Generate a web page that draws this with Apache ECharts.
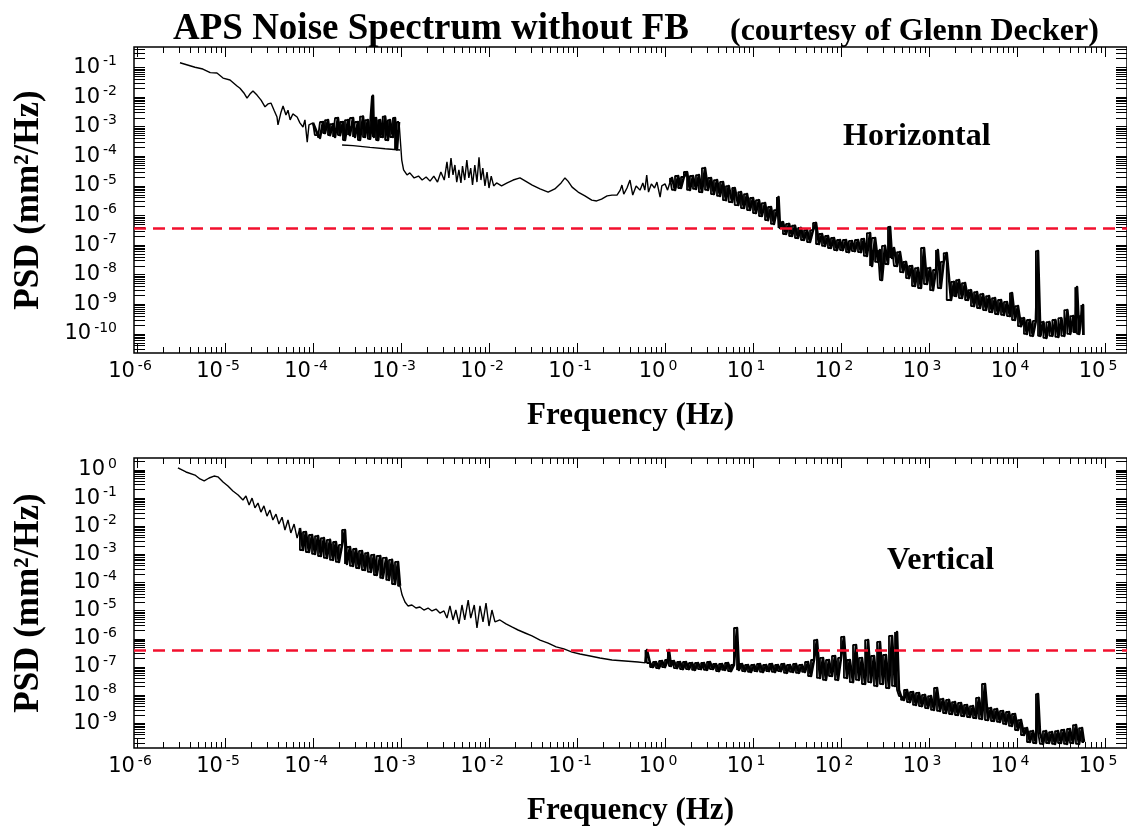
<!DOCTYPE html>
<html><head><meta charset="utf-8">
<script src="https://cdn.jsdelivr.net/npm/echarts@6/dist/echarts.min.js"></script>
<style>html,body{margin:0;padding:0;background:#fff;}#chart{width:1127px;height:839px;}</style>
</head><body><div id="chart"></div>
<script>
// ---- data: [frequency (Hz), PSD (mm^2/Hz)] ----
const horizontalPSD = [
[3.08e-6,1.45e-1],[4.56e-6,1.02e-1],[5.6e-6,8.9e-2],[6.8e-6,6.7e-2],[8.1e-6,6.5e-2],[9.5e-6,4.4e-2],[1.14e-5,3.8e-2],[1.37e-5,2.37e-2],[1.48e-5,2.0e-2],[1.64e-5,1.38e-2],[1.78e-5,9.3e-3],[1.92e-5,1.27e-2],[2.08e-5,1.62e-2],[2.31e-5,1.17e-2],[2.57e-5,7.9e-3],[2.85e-5,4.7e-3],[3.08e-5,5.9e-3],[3.33e-5,6.3e-3],[3.61e-5,3.6e-3],[3.9e-5,2.13e-3],[4.0e-5,1.15e-3],[4.33e-5,3.1e-3],[4.57e-5,5.0e-3],[4.93e-5,2.5e-3],[5.2e-5,3.6e-3],[5.5e-5,1.7e-3],[5.9e-5,2.7e-3],[6.6e-5,2.13e-3],[7.1e-5,1.35e-3],[7.7e-5,9.8e-4],[8.1e-5,1.7e-3],[8.6e-5,3.0e-4],[9.0e-5,1.15e-3],[1.0e-4,1.35e-3],
[1.05e-4,1.44e-3],[1.14e-4,5.2e-4],[1.2e-4,4.2e-4],[1.3e-4,1.44e-3],[1.37e-4,6.1e-4],[1.48e-4,1.68e-3],[1.56e-4,5.2e-4],[1.69e-4,1.23e-3],[1.78e-4,4.5e-4],[1.92e-4,1.97e-3],[2.03e-4,5.2e-4],[2.19e-4,1.44e-3],[2.31e-4,3.55e-4],[2.5e-4,1.68e-3],[2.63e-4,5.2e-4],[2.85e-4,1.97e-3],[3.0e-4,4.5e-4],[3.24e-4,1.44e-3],[3.42e-4,3.55e-4],[3.7e-4,2.2e-3],[3.9e-4,4.5e-4],[4.2e-4,1.68e-3],[4.45e-4,3.9e-4],[4.68e-4,1.44e-3],[4.8e-4,1.1e-2],[4.93e-4,4.5e-4],[5.2e-4,1.97e-3],[5.5e-4,3.55e-4],[5.8e-4,1.68e-3],[6.2e-4,4.5e-4],[6.6e-4,2.2e-3],[7.1e-4,3.55e-4],[7.5e-4,1.68e-3],[8.1e-4,4.5e-4],[8.55e-4,1.97e-3],[9.0e-4,1.7e-4],[9.5e-4,1.44e-3],
[1.02e-3,7.5e-5],[1.07e-3,3.5e-5],[1.17e-3,2.34e-5],[1.26e-3,2.75e-5],[1.41e-3,1.86e-5],[1.58e-3,2.15e-5],[1.74e-3,1.58e-5],[1.93e-3,2.0e-5],[2.14e-3,1.45e-5],[2.36e-3,2.15e-5],[2.6e-3,1.35e-5],[2.84e-3,2.95e-5],[3.1e-3,1.58e-5],[3.33e-3,6.5e-5],[3.5e-3,1.86e-5],[3.7e-3,8.7e-5],[3.9e-3,2.34e-5],[4.1e-3,5.1e-5],[4.3e-3,1.35e-5],[4.55e-3,3.5e-5],[4.8e-3,1.26e-5],[5.0e-3,4.7e-5],[5.3e-3,1.58e-5],[5.6e-3,7.5e-5],[5.9e-3,1.86e-5],[6.2e-3,4.0e-5],[6.5e-3,1.07e-5],[6.9e-3,5.1e-5],[7.3e-3,1.35e-5],[7.7e-3,9.3e-5],[8.1e-3,1.58e-5],[8.5e-3,4.0e-5],[9.0e-3,1.0e-5],[9.5e-3,2.95e-5],[1.0e-2,8.5e-6],[1.06e-2,2.15e-5],[1.13e-2,1.0e-5],[1.22e-2,1.26e-5],[1.39e-2,1.0e-5],[1.61e-2,1.26e-5],[1.88e-2,1.58e-5],[2.25e-2,1.86e-5],[2.6e-2,1.45e-5],[3.1e-2,1.07e-5],[3.8e-2,7.9e-6],[4.7e-2,6.2e-6],[5.6e-2,7.9e-6],[6.6e-2,1.26e-5],[7.3e-2,1.86e-5],[7.9e-2,1.45e-5],[8.8e-2,9.1e-6],[1.03e-1,6.2e-6],[1.23e-1,4.6e-6],[1.47e-1,3.3e-6],[1.67e-1,3.1e-6],[1.9e-1,3.6e-6],[2.2e-1,4.6e-6],[2.5e-1,4.9e-6],[2.85e-1,4.9e-6],[3.1e-1,7.2e-6],[3.24e-1,1.07e-5],[3.4e-1,5.3e-6],[3.7e-1,8.5e-6],[4.0e-1,1.58e-5],[4.3e-1,4.9e-6],[4.7e-1,1.0e-5],[5.2e-1,7.2e-6],[5.6e-1,1.26e-5],[5.9e-1,7.2e-6],[6.2e-1,2.34e-5],[6.5e-1,6.2e-6],[7.0e-1,1.17e-5],[7.6e-1,8.5e-6],[8.1e-1,1.35e-5],[8.8e-1,4.2e-6],[9.2e-1,1.0e-5],[1.0,1.17e-5],[1.07,7.2e-6],[1.14,1.35e-5],
[1.2,1.85e-5],[1.3,7.3e-6],[1.41,2.16e-5],[1.52,8.5e-6],[1.64,2.0e-5],[1.78,2.95e-5],[1.92,7.3e-6],[2.08,2.16e-5],[2.25,7.9e-6],[2.43,2.33e-5],[2.63,6.2e-6],[2.85,4.0e-5],[3.08,7.3e-6],[3.33,1.85e-5],[3.6,5.3e-6],[3.9,1.58e-5],[4.22,4.6e-6],[4.56,1.36e-5],[4.93,3.3e-6],[5.3,9.9e-6],[5.8,2.86e-6],[6.2,8.5e-6],[6.8,2.26e-6],[7.3,6.2e-6],[7.9,1.79e-6],[8.55,5.3e-6],[9.25,1.53e-6],[10,3.9e-6],[10.8,1.21e-6],[11.7,3.3e-6],[12.6,9.6e-7],[13.7,2.64e-6],[14.8,7.0e-7],[16.0,1.94e-6],[17.3,5.2e-7],[18.7,1.53e-6],[19.5,4.2e-6],[20.3,3.8e-7],[21.9,6.0e-7],[23.7,2.37e-7],[25.7,5.2e-7],[27.7,2.03e-7],[30,4.5e-7],[32.5,1.74e-7],[35.1,3.8e-7],[38,1.49e-7],[41.1,3.2e-7],[44.5,1.27e-7],[48.1,3.2e-7],[52,5.6e-7],[56.2,1.09e-7],[60.8,2.37e-7],[65.8,9.4e-8],[71.1,2.03e-7],[76.9,8.0e-8],[83.2,1.74e-7],[90,6.8e-8],[97.4,1.49e-7],[105,6.8e-8],[114,1.49e-7],[123,5.8e-8],[133,1.38e-7],[144,6.3e-8],[156,1.49e-7],[169,5.8e-8],[182,1.61e-7],[197,4.3e-8],[214,2.56e-7],[225,1.97e-8],[244,1.74e-7],[263,2.7e-8],[277,6.8e-8],[292,6.6e-9],[316,9.4e-8],[342,2.3e-8],[361,4.1e-7],[380,3.7e-8],[400,8.0e-8],[433,1.97e-8],[468,5.8e-8],[507,1.23e-8],[548,2.7e-8],[593,7.7e-9],[641,1.97e-8],[693,4.15e-9],[750,1.68e-8],[811,3.55e-9],[877,8.0e-8],[949,4.85e-9],[1027,1.68e-8],[1110,3.0e-9],[1200,1.44e-8],[1260,6.8e-8],[1360,3.55e-9],[1470,2.7e-8],[1590,5.4e-8],[1779,1.4e-9],[1924,5.7e-9],[2030,1.9e-9],[2190,6.6e-9],[2370,1.63e-9],[2570,5.2e-9],[2780,1.4e-9],[3000,3.0e-9],[3250,8.7e-10],[3510,2.6e-9],[3800,7.5e-10],[4110,2.2e-9],[4450,6.4e-10],[4810,1.9e-9],[5200,5.5e-10],[5620,1.63e-9],[6080,4.7e-10],[6580,1.4e-9],[7110,4.4e-10],[7690,1.2e-9],[8320,4.0e-10],[8780,2.4e-9],[9490,2.95e-10],[10260,8.7e-10],[11100,1.82e-10],[12000,3.4e-10],[12960,1.0e-10],[14010,2.95e-10],[15150,8.6e-11],[16390,2.75e-10],[17330,6.3e-8],[18450,8.6e-11],[19950,2.5e-10],[21570,7.3e-11],[23330,2.5e-10],[25220,8.6e-11],[27270,2.95e-10],[29490,7.9e-11],[31890,3.4e-10],[34480,8.6e-11],[37290,6.4e-10],[40320,1.0e-10],[43600,4.0e-10],[45950,1.16e-10],[48110,3.8e-9],[50900,1.0e-10],[53800,4.0e-10],[56300,9.5e-10],[57000,9.2e-11]
];
const horizontalSmoothPSD = [[2.14e-4,2.4e-4],[2.85e-4,2.3e-4],[4.45e-4,2.0e-4],[6.6e-4,1.8e-4],[9.75e-4,1.63e-4]];
const verticalPSD = [
[2.92e-6,1.18],[3.6e-6,0.85],[4.56e-6,0.66],[5.2e-6,0.48],[5.8e-6,0.41],[6.6e-6,0.52],[7.5e-6,0.61],[8.3e-6,0.57],[9.5e-6,0.375],[1.08e-5,0.27],[1.23e-5,0.18],[1.41e-5,0.13],[1.6e-5,8.6e-2],[1.73e-5,0.12],[1.88e-5,5.7e-2],[2.03e-5,0.1],[2.19e-5,4.5e-2],[2.37e-5,6.7e-2],[2.56e-5,3.2e-2],[2.77e-5,5.3e-2],[3.0e-5,2.3e-2],[3.24e-5,3.8e-2],[3.5e-5,1.67e-2],[3.8e-5,2.7e-2],[4.1e-5,1.2e-2],[4.45e-5,2.1e-2],[4.8e-5,7.4e-3],[5.2e-5,1.67e-2],[5.6e-5,5.8e-3],[6.1e-5,1.2e-2],[6.6e-5,3.8e-3],[7.1e-5,8.7e-3],
[7.7e-5,1.44e-3],[8.3e-5,6.3e-3],[9.0e-5,1.22e-3],[9.75e-5,4.9e-3],[1.054e-4,1.04e-3],[1.14e-4,4.5e-3],[1.23e-4,8.8e-4],[1.33e-4,3.8e-3],[1.44e-4,7.5e-4],[1.56e-4,3.3e-3],[1.69e-4,6.4e-4],[1.82e-4,2.77e-3],[1.97e-4,5.4e-4],[2.14e-4,2.17e-3],[2.31e-4,7.4e-3],[2.43e-4,4.6e-4],[2.63e-4,1.84e-3],[2.85e-4,3.9e-4],[3.08e-4,1.56e-3],[3.33e-4,3.3e-4],[3.6e-4,1.33e-3],[3.9e-4,2.8e-4],[4.2e-4,1.12e-3],[4.56e-4,2.4e-4],[4.93e-4,9.6e-4],[5.3e-4,1.86e-4],[5.8e-4,8.8e-4],[6.2e-4,1.46e-4],[6.8e-4,7.5e-4],[7.3e-4,1.24e-4],[7.9e-4,6.4e-4],[8.55e-4,8.9e-5],[9.25e-4,5.4e-4],[9.75e-4,7.6e-5],
[1.03e-3,3.6e-5],[1.11e-3,2.05e-5],[1.2e-3,1.48e-5],[1.33e-3,1.6e-5],[1.48e-3,1.25e-5],[1.64e-3,1.36e-5],[1.82e-3,1.06e-5],[2.03e-3,1.25e-5],[2.25e-3,9.8e-6],[2.5e-3,1.15e-5],[2.77e-3,8.3e-6],[3.08e-3,9.8e-6],[3.33e-3,5.5e-6],[3.6e-3,1.48e-5],[3.9e-3,4.7e-6],[4.2e-3,1.06e-5],[4.56e-3,3.4e-6],[4.93e-3,1.6e-5],[5.3e-3,4.7e-6],[5.8e-3,2.4e-5],[6.2e-3,5.5e-6],[6.8e-3,1.6e-5],[7.3e-3,2.44e-6],[7.9e-3,1.48e-5],[8.55e-3,4.0e-6],[9.25e-3,1.88e-5],[1.0e-2,2.87e-6],[1.08e-2,1.06e-5],[1.17e-2,4.0e-6],[1.33e-2,4.7e-6],[1.56e-2,3.4e-6],[1.82e-2,2.65e-6],[2.14e-2,2.07e-6],[2.57e-2,1.62e-6],[3.08e-2,1.27e-6],[3.8e-2,9.1e-7],[4.7e-2,7.1e-7],[5.8e-2,5.2e-7],[7.1e-2,4.4e-7],[8.8e-2,3.4e-7],[0.108,2.9e-7],[0.141,2.47e-7],[0.182,2.1e-7],[0.25,1.78e-7],[0.351,1.64e-7],[0.493,1.51e-7],[0.6,1.4e-7],[0.624,4.0e-7],[0.676,1.39e-7],[0.73,1.0e-7],[0.79,1.51e-7],[0.855,9.2e-8],[0.925,1.64e-7],[1.0,1.0e-7],[1.08,1.78e-7],[1.11,4.0e-7],[1.17,1.09e-7],[1.26,1.64e-7],[1.37,9.2e-8],[1.48,1.51e-7],[1.6,8.5e-8],[1.73,1.51e-7],[1.87,8.5e-8],[2.03,1.39e-7],[2.19,7.9e-8],[2.37,1.39e-7],[2.57,8.5e-8],[2.77,1.39e-7],[3.0,7.9e-8],[3.24,1.51e-7],[3.51,8.5e-8],[3.8,1.28e-7],[4.11,7.2e-8],[4.45,1.28e-7],[4.81,7.9e-8],[5.2,1.39e-7],[5.62,7.2e-8],[6.08,1.18e-7],[6.58,2.44e-6],[6.93,7.9e-8],[7.5,1.28e-7],[8.11,7.2e-8],[8.77,1.18e-7],[9.49,6.7e-8],[10.3,1.18e-7],[11.1,7.2e-8],[12.0,1.28e-7],[13.0,6.7e-8],[14.1,1.18e-7],[15.2,7.2e-8],[16.4,1.28e-7],[17.8,6.7e-8],[19.2,1.18e-7],[20.8,7.2e-8],[22.5,1.28e-7],[24.3,6.2e-8],[26.3,1.18e-7],[28.5,6.7e-8],[30.8,1.28e-7],[33.3,6.2e-8],[36.1,1.18e-7],[39,6.7e-8],[42.2,1.51e-7],[45.6,4.8e-8],[49.3,1.78e-7],[53.3,9.1e-7],[57.7,4.1e-8],[62.4,2.1e-7],[67.5,3.5e-8],[73,1.78e-7],[79,4.8e-8],[85.5,2.47e-7],[92.5,3.5e-8],[100,2.1e-7],[108,1.17e-6],[117,4.1e-8],[126,1.78e-7],[137,2.9e-8],[148,6.1e-7],[160,3.5e-8],[173,2.1e-7],[188,2.5e-8],[203,9.1e-7],[219,2.9e-8],[237,2.47e-7],[257,2.14e-8],[277,7.8e-7],[300,2.5e-8],[324,2.68e-7],[351,1.8e-8],[380,1.27e-6],[411,2.14e-8],[433,1.76e-6],[456,1.53e-8],[481,9.3e-9],
[520,6.8e-9],[562,1.53e-8],[608,5.7e-9],[658,1.3e-8],[711,4.5e-9],[769,1.2e-8],[832,4.1e-9],[901,1.02e-8],[975,3.5e-9],[1054,9.3e-9],[1140,3.0e-9],[1233,1.8e-8],[1334,2.75e-9],[1443,7.3e-9],[1561,2.33e-9],[1688,6.8e-9],[1826,2.15e-9],[1974,5.7e-9],[2135,1.98e-9],[2310,5.3e-9],[2498,1.82e-9],[2702,4.5e-9],[2923,1.68e-9],[3162,4.1e-9],[3420,1.55e-9],[3699,8.0e-9],[4000,1.43e-9],[4327,2.5e-8],[4680,1.31e-9],[5062,3.5e-9],[5475,1.21e-9],[5922,3.2e-9],[6405,1.12e-9],[6928,2.75e-9],[7494,9.5e-10],[8105,2.53e-9],[8767,8.1e-10],[9483,2.15e-9],[10257,5.8e-10],[11094,1.31e-9],[12000,3.85e-10],[12980,6.8e-10],[14040,2.17e-10],[15190,5.3e-10],[16430,2.0e-10],[17330,1.1e-8],[18240,4.9e-10],[19730,1.85e-10],[21380,5.3e-10],[23120,2.0e-10],[25000,4.9e-10],[27040,1.85e-10],[29240,5.3e-10],[31620,2.0e-10],[34200,5.8e-10],[36990,1.85e-10],[40000,6.3e-10],[43260,2.0e-10],[46780,8.7e-10],[50700,1.85e-10],[54800,6.8e-10],[57700,2.17e-10]
];
const thresholdPSD = 3.8e-7;
// frequency ranges (Hz) where the spectra are dense noisy bands
const horizontalBands = [[1.0e-4, 9.5e-4], [1.14, 1e6]];
const verticalBands = [[7.1e-5, 9.75e-4], [0.6, 1e6]];
// tick labels: decade exponents
const xDecades = [-6,-5,-4,-3,-2,-1,0,1,2,3,4,5];
const yDecadesTop = [-10,-9,-8,-7,-6,-5,-4,-3,-2,-1];
const yDecadesBottom = [-9,-8,-7,-6,-5,-4,-3,-2,-1,0];
// axis ranges (decade exponents)
const xRangeExp = [-6.034, 5.25];
const yRangeTopExp = [-10.645, -0.307];
const yRangeBottomExp = [-9.876, 0.426];

const serifBold = {fontFamily:'Liberation Serif', fontWeight:'bold', color:'#000'};
function tickSet(range, ks){
  const out=[];
  for(let n=Math.floor(range[0]); n<=Math.ceil(range[1]); n++){
    ks.forEach(k=>{const v=n+Math.log10(k); if(v>=range[0]&&v<=range[1]) out.push(v);});
  }
  return out;
}
const allK=[1,2,3,4,5,6,7,8,9], minorK=[2,3,4,5,6,7,8,9];
const labelRich = {
  b:{fontFamily:'DejaVu Sans', fontSize:21, lineHeight:26, padding:[0,3,0,0], color:'#000'},
  e:{fontFamily:'DejaVu Sans', fontSize:14, lineHeight:13, verticalAlign:'top', color:'#000'}
};
function powerLabel(v){ return '{b|10}{e|' + Math.round(v) + '}'; }

function xOverlay(g, position, ticks, len, labels, name){
  return {type:'value', gridIndex:g, position:position, min:xRangeExp[0], max:xRangeExp[1],
    axisLine:{show:false, onZero:false}, splitLine:{show:false},
    axisTick:{show:true, inside:true, length:len, lineStyle:{color:'#000', width:1}, customValues:ticks},
    axisLabel: labels ? {show:true, customValues:xDecades, formatter:powerLabel, rich:labelRich, margin:6, padding:[0,14,0,0]} : {show:false},
    name: name || '', nameLocation:'middle', nameGap:47, nameTextStyle:Object.assign({fontSize:31}, serifBold)};
}
function yOverlay(g, position, range, decs, labels){
  return {type:'value', gridIndex:g, position:position, min:range[0], max:range[1],
    axisLine:{show:false, onZero:false}, splitLine:{show:false},
    axisTick:{show:true, inside:true, length:11, lineStyle:{color:'#000', width:1}, customValues:tickSet(range, allK)},
    axisLabel: labels ? {show:true, customValues:decs, formatter:powerLabel, rich:labelRich, margin:17, align:'right'} : {show:false},
    name: labels ? 'PSD (mm²/Hz)' : '', nameLocation:'middle', nameGap:88, nameRotate:90,
    nameTextStyle:Object.assign({fontSize:35}, serifBold)};
}
function mainAxis(g, range){
  return {type:'log', logBase:10, gridIndex:g, min:Math.pow(10, range[0]), max:Math.pow(10, range[1]),
    show:false, axisLine:{onZero:false}, splitLine:{show:false}};
}
const xMajor = tickSet(xRangeExp, [1]);
const xMinor = tickSet(xRangeExp, minorK);
const redLine = {silent:true, symbol:['none','none'], animation:false, label:{show:false},
  lineStyle:{color:'#f2102e', type:[12,7], width:2.5},
  data:[[{coord:[Math.pow(10, xRangeExp[0]), thresholdPSD]}, {coord:[Math.pow(10, xRangeExp[1]), thresholdPSD]}]]};
const thinStyle = {color:'#000', width:1.4};
const bandStyle = {color:'#000', width:2.6, join:'round'};
const bandFillStyle = {color:'#000', width:1.8};
function pick(data, lo, hi){ return data.filter(p => p[0] >= lo && p[0] <= hi); }
function lineSeries(name, data, xi, yi, style, step){
  const s = {name:name, type:'line', xAxisIndex:xi, yAxisIndex:yi, data:data, symbol:'none', showSymbol:false, lineStyle:style, z:3};
  if (step) s.step = step;
  return s;
}
function traceSeries(name, data, bands, xi, yi){
  const out = [];
  let prev = 0;
  bands.forEach(b => {
    const bandData = pick(data, b[0], b[1]);
    out.push(lineSeries(name, pick(data, prev, b[0]), xi, yi, thinStyle, null));
    out.push(lineSeries(name, bandData, xi, yi, bandStyle, null));
    out.push(lineSeries(name, bandData, xi, yi, bandFillStyle, 'start'));
    prev = b[1];
  });
  out.push(lineSeries(name, pick(data, prev, 1e9), xi, yi, thinStyle, null));
  return out;
}

const series = [].concat(
  traceSeries('Horizontal', horizontalPSD, horizontalBands, 0, 0),
  [{name:'Horizontal (smoothed)', type:'line', xAxisIndex:0, yAxisIndex:0, data:horizontalSmoothPSD, symbol:'none', showSymbol:false, lineStyle:thinStyle, markLine:redLine, z:3}],
  traceSeries('Vertical', verticalPSD, verticalBands, 5, 3)
);
series[series.length-1].markLine = redLine;

const option = {
  backgroundColor:'#fff', animation:false,
  title:[
    {text:'APS Noise Spectrum without FB', left:173, top:11, padding:0, textStyle:Object.assign({fontSize:37}, serifBold)},
    {text:'(courtesy of Glenn Decker)', left:730, top:16, padding:0, textStyle:Object.assign({fontSize:32}, serifBold)},
    {text:'Horizontal', left:843, top:121, padding:0, textStyle:Object.assign({fontSize:32}, serifBold)},
    {text:'Vertical', left:887, top:545, padding:0, textStyle:Object.assign({fontSize:32}, serifBold)}
  ],
  grid:[
    {left:134, top:47, width:993, height:306, show:true, borderColor:'#000', borderWidth:1.5, backgroundColor:'transparent'},
    {left:134, top:458, width:993, height:290, show:true, borderColor:'#000', borderWidth:1.5, backgroundColor:'transparent'}
  ],
  xAxis:[
    mainAxis(0, xRangeExp),
    xOverlay(0,'bottom',xMajor,10,true,'Frequency (Hz)'),
    xOverlay(0,'bottom',xMinor,6,false),
    xOverlay(0,'top',xMajor,10,false),
    xOverlay(0,'top',xMinor,6,false),
    mainAxis(1, xRangeExp),
    xOverlay(1,'bottom',xMajor,10,true,'Frequency (Hz)'),
    xOverlay(1,'bottom',xMinor,6,false),
    xOverlay(1,'top',xMajor,10,false),
    xOverlay(1,'top',xMinor,6,false)
  ],
  yAxis:[
    mainAxis(0, yRangeTopExp),
    yOverlay(0,'left',yRangeTopExp,yDecadesTop,true),
    yOverlay(0,'right',yRangeTopExp,yDecadesTop,false),
    mainAxis(1, yRangeBottomExp),
    yOverlay(1,'left',yRangeBottomExp,yDecadesBottom,true),
    yOverlay(1,'right',yRangeBottomExp,yDecadesBottom,false)
  ],
  series: series
};
const chart = echarts.init(document.getElementById('chart'), null, {renderer:'canvas'});
chart.setOption(option);
</script>
</body></html>
